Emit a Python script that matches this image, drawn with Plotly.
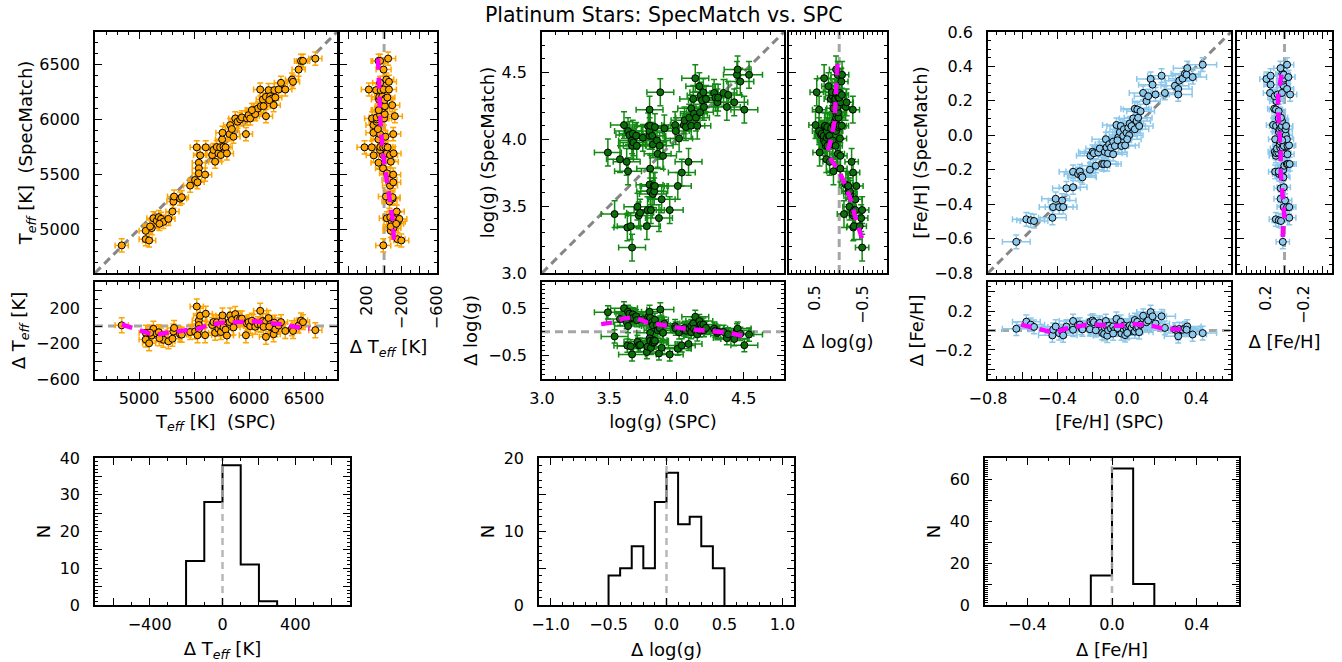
import numpy as np
import plotly.graph_objects as go

W, H = 1342, 662

# ---------------- data ----------------
teff_spc = [4843, 5061, 5061, 5092, 5116, 5131, 5161, 5180, 5201, 5222, 5267, 5101, 5186, 5304, 5313, 5319,
            5374, 5389, 5465, 5510, 5525, 5544, 5544, 5544, 5532, 5556, 5601, 5607, 5665, 5677, 5692, 5707,
            5722, 5737, 5744, 5756, 5759, 5768, 5787, 5799, 5823, 5829, 5844, 5859, 5875, 5896, 5920, 5935,
            5972, 5981, 5996, 6011, 6041, 6057, 6081, 6108, 6126, 6154, 6154, 6178, 6193, 6209, 6224, 6230,
            6132, 6184, 6239, 6269, 6291, 6330, 6391, 6400, 6451, 6473, 6491, 6603, 6102, 6026]
teff_sm = [4852, 4985, 4909, 4897, 5010, 5100, 5076, 5110, 5094, 5067, 5094, 5025, 5049, 5161, 5252, 5298,
           5279, 5292, 5398, 5449, 5747, 5607, 5556, 5510, 5428, 5674, 5498, 5747, 5677, 5723, 5616, 5750,
           5692, 5747, 5677, 5820, 5880, 5753, 5747, 5692, 5868, 5950, 5914, 5844, 6011, 5981, 6002, 6020,
           5868, 6011, 6041, 6011, 6087, 6050, 6102, 6123, 6184, 6032, 6208, 6269, 6214, 6193, 6132, 6269,
           6123, 6178, 6202, 6275, 6336, 6275, 6366, 6345, 6457, 6536, 6536, 6557, 6275, 6087]

logg_spc = [3.49, 3.54, 3.58, 3.61, 3.63, 3.64, 3.635, 3.64, 3.65, 3.67, 3.67, 3.66, 3.67, 3.675, 3.68, 3.70,
            3.705, 3.71, 3.72, 3.73, 3.75, 3.78, 3.785, 3.79, 3.80, 3.80, 3.80, 3.805, 3.805, 3.80, 3.805, 3.81,
            3.82, 3.825, 3.83, 3.835, 3.825, 3.84, 3.84, 3.855, 3.86, 3.87, 3.875, 3.88, 3.89, 3.90, 3.91, 3.95,
            3.99, 3.995, 4.01, 4.02, 4.04, 4.055, 4.06, 4.07, 4.09, 4.095, 4.11, 4.11, 4.125, 4.13, 4.14, 4.145,
            4.155, 4.17, 4.175, 4.18, 4.19, 4.20, 4.205, 4.22, 4.28, 4.29, 4.305, 4.31, 4.35, 4.375, 4.385, 4.43,
            4.45, 4.455, 4.475, 4.505, 4.54]
logg_sm = [3.90, 3.44, 3.85, 4.105, 3.83, 3.76, 3.34, 4.06, 4.03, 3.99, 3.19, 3.35, 3.95, 4.04, 3.975, 4.025,
           3.95, 3.495, 3.43, 3.45, 4.01, 3.35, 3.47, 4.095, 4.025, 4.22, 4.06, 4.10, 3.78, 3.66, 3.61, 3.47,
           4.025, 3.59, 3.65, 3.61, 3.96, 4.09, 3.65, 3.99, 3.89, 3.41, 3.95, 4.35, 3.55, 3.875, 4.08, 3.47,
           4.105, 4.06, 3.65, 4.005, 3.75, 4.105, 4.14, 4.09, 3.83, 4.16, 4.23, 4.10, 4.30, 4.19, 4.455, 4.16,
           4.10, 4.395, 4.20, 4.325, 4.29, 4.35, 4.24, 4.30, 4.345, 4.31, 4.275, 4.31, 4.345, 4.24, 4.33, 4.275,
           4.48, 4.52, 4.43, 4.22, 4.48]

feh_spc = [-0.637, -0.579, -0.554, -0.535, -0.429, -0.425, -0.410, -0.390, -0.373, -0.367, -0.348, -0.310,
           -0.310, -0.281, -0.271, -0.262, -0.256, -0.213, -0.210, -0.198, -0.190, -0.179, -0.165, -0.156,
           -0.142, -0.131, -0.127, -0.121, -0.117, -0.113, -0.108, -0.102, -0.092, -0.079, -0.069, -0.060,
           -0.050, -0.040, -0.035, -0.031, -0.021, -0.017, -0.010, -0.002, 0.008, 0.013, 0.017, 0.027, 0.037,
           0.046, 0.056, 0.065, 0.046, 0.060, 0.071, 0.079, 0.094, 0.113, 0.123, 0.137, 0.148, 0.165, 0.200,
           0.219, 0.277, 0.296, 0.296, 0.302, 0.321, 0.335, 0.348, 0.344, 0.379, 0.437, 0.002, -0.054, -0.079]
feh_sm = [-0.619, -0.488, -0.494, -0.498, -0.479, -0.417, -0.369, -0.417, -0.379, -0.417, -0.308, -0.302,
          -0.212, -0.225, -0.210, -0.235, -0.244, -0.200, -0.119, -0.096, -0.104, -0.177, -0.100, -0.077,
          -0.167, -0.167, -0.096, -0.023, -0.071, -0.167, -0.104, -0.052, -0.071, -0.037, -0.062, 0.060,
          -0.013, 0.019, 0.054, -0.062, -0.004, 0.035, -0.058, 0.015, 0.044, 0.000, 0.069, 0.054, 0.098,
          0.035, 0.083, 0.102, 0.154, 0.150, 0.054, 0.140, 0.246, 0.198, 0.227, 0.327, 0.294, 0.237, 0.346,
          0.246, 0.288, 0.269, 0.237, 0.317, 0.329, 0.358, 0.390, 0.352, 0.338, 0.410, -0.023, -0.029, -0.110]

# running-mean trend lines (magenta)
teff_trend_spc = [4843, 4950, 5145, 5250, 5350, 5450, 5540, 5650, 5740, 5860, 5960, 6060, 6160, 6270, 6370, 6460, 6550]
teff_trend_dspc = [18, -29, -102, -75, -55, -44, -29, 18, 36, 44, 47, 55, 36, 25, 0, -11, -29]
teff_trend_sm = [6557, 6299, 5996, 5723, 5480, 5267, 5085, 4843]
teff_trend_dsm = [69, 58, 42, 19, -27, -74, -97, -115]

logg_trend_spc = [3.44, 3.53, 3.605, 3.69, 3.78, 3.87, 3.94, 4.03, 4.09, 4.18, 4.27, 4.355, 4.43, 4.52]
logg_trend_dspc = [0.16, 0.195, 0.28, 0.30, 0.196, 0.147, 0.105, 0.077, 0.056, 0.035, 0.02, -0.014, -0.05, -0.105]
logg_trend_sm = [4.56, 4.30, 4.125, 4.0, 3.91, 3.84, 3.76, 3.68, 3.55, 3.40, 3.21]
logg_trend_dsm = [0.035, 0.07, 0.10, 0.17, 0.24, 0.16, 0.0, -0.10, -0.24, -0.35, -0.52]

feh_trend_spc = [-0.61, -0.54, -0.48, -0.415, -0.358, -0.29, -0.233, -0.165, -0.108, -0.04, 0.027, 0.085, 0.152, 0.219, 0.287, 0.354]
feh_trend_dspc = [0.06, 0.03, -0.007, -0.024, 0.017, 0.045, 0.06, 0.06, 0.05, 0.05, 0.068, 0.06, 0.045, 0.017, 0.017, 0.01]
feh_trend_sm = [0.352, 0.294, 0.227, 0.15, 0.035, -0.10, -0.215, -0.30, -0.35, -0.417, -0.485, -0.55, -0.61]
feh_trend_dsm = [0.033, 0.05, 0.067, 0.067, 0.05, 0.04, 0.04, 0.027, 0.017, 0.0, 0.0, 0.017, 0.017]

# histograms of the residuals
teff_hist_edges = [-200, -100, 0, 100, 200, 300]
teff_hist_counts = [12, 28, 38, 11, 1]
logg_hist_edges = [-0.5, -0.4, -0.3, -0.2, -0.1, 0.0, 0.1, 0.2, 0.3, 0.4, 0.5]
logg_hist_counts = [4, 5, 8, 5, 14, 18, 11, 12, 8, 5]
feh_hist_edges = [-0.1, 0.0, 0.1, 0.2]
feh_hist_counts = [14, 65, 10]

# uncertainties
teff_err = (60, 60, 85)
logg_err = (0.1, 0.1, 0.14)
feh_err = (0.08, 0.04, 0.07)

FONT = "DejaVu Sans"
TICK = 16
LAB = 18
fig = go.Figure()
layout = {}


def dom_x(a, b):
    return [a / W, b / W]


def dom_y(top, bot):
    return [1 - bot / H, 1 - top / H]


def axis(domain, rng, tickvals, ticktext=None, minor=None, title=None, labels=True, angle=None,
         standoff=10, tlso=4):
    d = dict(domain=domain, range=rng, showline=True, linecolor="black", linewidth=1.6,
             mirror="allticks", ticks="inside", ticklen=7, tickwidth=1.2, tickcolor="black",
             showgrid=False, zeroline=False, showticklabels=labels, tickvals=tickvals, automargin=False,
             ticklabelstandoff=tlso,
             tickfont=dict(family=FONT, size=TICK, color="black"))
    if ticktext is not None:
        d["ticktext"] = ticktext
    if minor is not None:
        d["minor"] = dict(ticks="inside", ticklen=3.5, tickwidth=1, tickcolor="black", dtick=minor,
                          tick0=0, showgrid=False)
    if title:
        d["title"] = dict(text=title, font=dict(family=FONT, size=LAB, color="black"), standoff=standoff)
    if angle is not None:
        d["tickangle"] = angle
    return d


def ref(kind, i):
    return kind + ("" if i == 1 else str(i))


def add_axes(i, xd, yd):
    xd["anchor"] = ref("y", i)
    yd["anchor"] = ref("x", i)
    layout[ref("xaxis", i)] = xd
    layout[ref("yaxis", i)] = yd


def fmt(vals, f, skip=None):
    out = []
    for k, v in enumerate(vals):
        if skip is not None and k % 2 == skip:
            out.append("")
        else:
            s = format(v, f).replace("-", "\u2212")
            if s in ("\u22120.0", "\u22120"):
                s = s[1:]
            out.append(s)
    return out


GRAY = "rgba(128,128,128,0.95)"
MAG = "#FF00FF"


def ref_line(i, xs, ys, color=GRAY, width=3, dash="8px,5px"):
    fig.add_trace(go.Scatter(x=xs, y=ys, mode="lines", xaxis=ref("x", i), yaxis=ref("y", i),
                             line=dict(color=color, width=width, dash=dash), showlegend=False,
                             hoverinfo="skip"))


def trend(i, xs, ys):
    fig.add_trace(go.Scatter(x=xs, y=ys, mode="lines", xaxis=ref("x", i), yaxis=ref("y", i),
                             line=dict(color=MAG, width=4.5, dash="11px,8px"), showlegend=False))


def pts(i, xs, ys, ex, ey, fill, ecol):
    fig.add_trace(go.Scatter(
        x=xs, y=ys, mode="markers", xaxis=ref("x", i), yaxis=ref("y", i), showlegend=False,
        marker=dict(size=7, color=fill, line=dict(color="black", width=1)),
        error_x=dict(type="constant", value=ex, color=ecol, thickness=1.5, width=3),
        error_y=dict(type="constant", value=ey, color=ecol, thickness=1.5, width=3)))


def hist(i, edges, counts):
    hx, hy = [edges[0]], [0]
    for k, c in enumerate(counts):
        hx += [edges[k], edges[k + 1]]
        hy += [c, c]
    hx.append(edges[-1])
    hy.append(0)
    fig.add_trace(go.Scatter(x=hx, y=hy, mode="lines", xaxis=ref("x", i), yaxis=ref("y", i),
                             line=dict(color="black", width=2), showlegend=False))


groups = [
    dict(spc=teff_spc, sm=teff_sm, err=teff_err, fill="#FFA500", ecol="#FFA500",
         rng=[4600, 6800], majors=[5000, 5500, 6000, 6500], mfmt="d", mminor=100,
         drng=[-600, 500], dmaj=[-600, -400, -200, 0, 200, 400], dtext=["\u2212600", "", "\u2212200", "", "200", ""],
         dminor=100,
         tx=teff_trend_spc, ty=teff_trend_dspc, rsm=teff_trend_sm, rd=teff_trend_dsm,
         he=teff_hist_edges, hc=teff_hist_counts, hrng=[-700, 700],
         hmaj=[-600, -400, -200, 0, 200, 400, 600], htext=["", "\u2212400", "", "0", "", "400", ""], hminor=100,
         hyrng=[0, 40], hymaj=[0, 5, 10, 15, 20, 25, 30, 35, 40],
         lab_sm="T<sub><i>eff</i></sub> [K]\u00a0 (SpecMatch)", lab_spc="T<sub><i>eff</i></sub> [K]\u00a0 (SPC)",
         lab_d="\u0394 T<sub><i>eff</i></sub> [K]",
         px=(95, 337, 340, 437, 95, 350)),
    dict(spc=logg_spc, sm=logg_sm, err=logg_err, fill="#0B6E0B", ecol="#138A13",
         rng=[3.0, 4.8], majors=[3.0, 3.5, 4.0, 4.5], mfmt=".1f", mminor=0.1,
         drng=[-1.0, 1.05], dmaj=[-0.5, 0.5], dtext=["\u22120.5", "0.5"], dminor=0.1,
         tx=logg_trend_spc, ty=logg_trend_dspc, rsm=logg_trend_sm, rd=logg_trend_dsm,
         he=logg_hist_edges, hc=logg_hist_counts, hrng=[-1.1, 1.1],
         hmaj=[-1.0, -0.5, 0.0, 0.5, 1.0], htext=["\u22121.0", "\u22120.5", "0.0", "0.5", "1.0"], hminor=0.1,
         hyrng=[0, 20], hymaj=[0, 5, 10, 15, 20],
         lab_sm="log(g) (SpecMatch)", lab_spc="log(g) (SPC)", lab_d="\u0394 log(g)",
         px=(542, 784, 789, 887, 539, 794)),
    dict(spc=feh_spc, sm=feh_sm, err=feh_err, fill="#8CC8EC", ecol="#8CC8EC",
         rng=[-0.8, 0.6], majors=[-0.8, -0.6, -0.4, -0.2, 0.0, 0.2, 0.4, 0.6], mfmt=".1f", mminor=0.05,
         drng=[-0.5, 0.5], dmaj=[-0.4, -0.2, 0.0, 0.2, 0.4], dtext=["", "\u22120.2", "", "0.2", ""], dminor=0.05,
         tx=feh_trend_spc, ty=feh_trend_dspc, rsm=feh_trend_sm, rd=feh_trend_dsm,
         he=feh_hist_edges, hc=feh_hist_counts, hrng=[-0.6, 0.6],
         hmaj=[-0.4, -0.2, 0.0, 0.2, 0.4], htext=["\u22120.4", "", "0.0", "", "0.4"], hminor=0.1,
         hyrng=[0, 70], hymaj=[0, 10, 20, 30, 40, 50, 60, 70],
         lab_sm="[Fe/H] (SpecMatch)", lab_spc="[Fe/H] (SPC)", lab_d="\u0394 [Fe/H]",
         px=(988, 1231, 1237, 1332, 985, 1239)),
]

for g_i, g in enumerate(groups):
    base = g_i * 4
    i_main, i_right, i_bot, i_hist = base + 1, base + 2, base + 3, base + 4
    mx0, mx1, rx0, rx1, hx0, hx1 = g["px"]
    spc = np.array(g["spc"], dtype=float)
    sm = np.array(g["sm"], dtype=float)
    d = sm - spc
    e_spc, e_sm, e_d = g["err"]
    lo, hi = g["rng"]

    # main panel
    add_axes(i_main,
             axis(dom_x(mx0, mx1), g["rng"], g["majors"], minor=g["mminor"], labels=False),
             axis(dom_y(32, 273), g["rng"], g["majors"], ticktext=fmt(g["majors"], g["mfmt"]),
                  minor=g["mminor"], title=g["lab_sm"], tlso=10, standoff=2))
    ref_line(i_main, [lo, hi], [lo, hi])
    pts(i_main, spc, sm, e_spc, e_sm, g["fill"], g["ecol"])

    # right panel: residual vs SpecMatch
    add_axes(i_right,
             axis(dom_x(rx0, rx1), g["drng"][::-1], g["dmaj"], ticktext=g["dtext"], minor=g["dminor"],
                  title=g["lab_d"], angle=-90, tlso=4, standoff=12),
             axis(dom_y(32, 273), g["rng"], g["majors"], minor=g["mminor"], labels=False))
    ref_line(i_right, [0, 0], [lo, hi], color="rgba(128,128,128,0.7)")
    pts(i_right, d, sm, e_d, e_sm, g["fill"], g["ecol"])
    trend(i_right, g["rd"], g["rsm"])

    # bottom panel: residual vs SPC
    xt = fmt(g["majors"], g["mfmt"], skip=1) if g_i == 2 else fmt(g["majors"], g["mfmt"])
    add_axes(i_bot,
             axis(dom_x(mx0, mx1), g["rng"], g["majors"], ticktext=xt, minor=g["mminor"], title=g["lab_spc"],
                  standoff=8),
             axis(dom_y(282, 379), g["drng"], g["dmaj"], ticktext=g["dtext"], minor=g["dminor"],
                  title=g["lab_d"], tlso=10, standoff=6))
    ref_line(i_bot, [lo, hi], [0, 0], color="rgba(128,128,128,0.7)")
    pts(i_bot, spc, d, e_spc, e_d, g["fill"], g["ecol"])
    trend(i_bot, g["tx"], g["ty"])

    # histogram
    hyt = [str(v) if k % 2 == 0 else "" for k, v in enumerate(g["hymaj"])]
    add_axes(i_hist,
             axis(dom_x(hx0, hx1), g["hrng"], g["hmaj"], ticktext=g["htext"], minor=g["hminor"], title=g["lab_d"]),
             axis(dom_y(458, 605), g["hyrng"], g["hymaj"], ticktext=hyt, minor=1, title="N", tlso=10,
                  standoff=4))
    hist(i_hist, g["he"], g["hc"])
    ref_line(i_hist, [0, 0], g["hyrng"], color="rgba(170,170,170,0.85)", width=2.5, dash="7px,5px")

fig.update_layout(**layout)
fig.update_layout(
    width=W, height=H, margin=dict(l=0, r=0, t=0, b=0),
    paper_bgcolor="white", plot_bgcolor="white",
    font=dict(family=FONT, color="black"),
    annotations=[dict(text="Platinum Stars: SpecMatch vs. SPC", x=663 / W, y=1 - 15 / H, xref="paper",
                      yref="paper", showarrow=False, font=dict(family=FONT, size=20.5, color="black"),
                      xanchor="center", yanchor="middle")],
)
fig.write_html("out.html")
